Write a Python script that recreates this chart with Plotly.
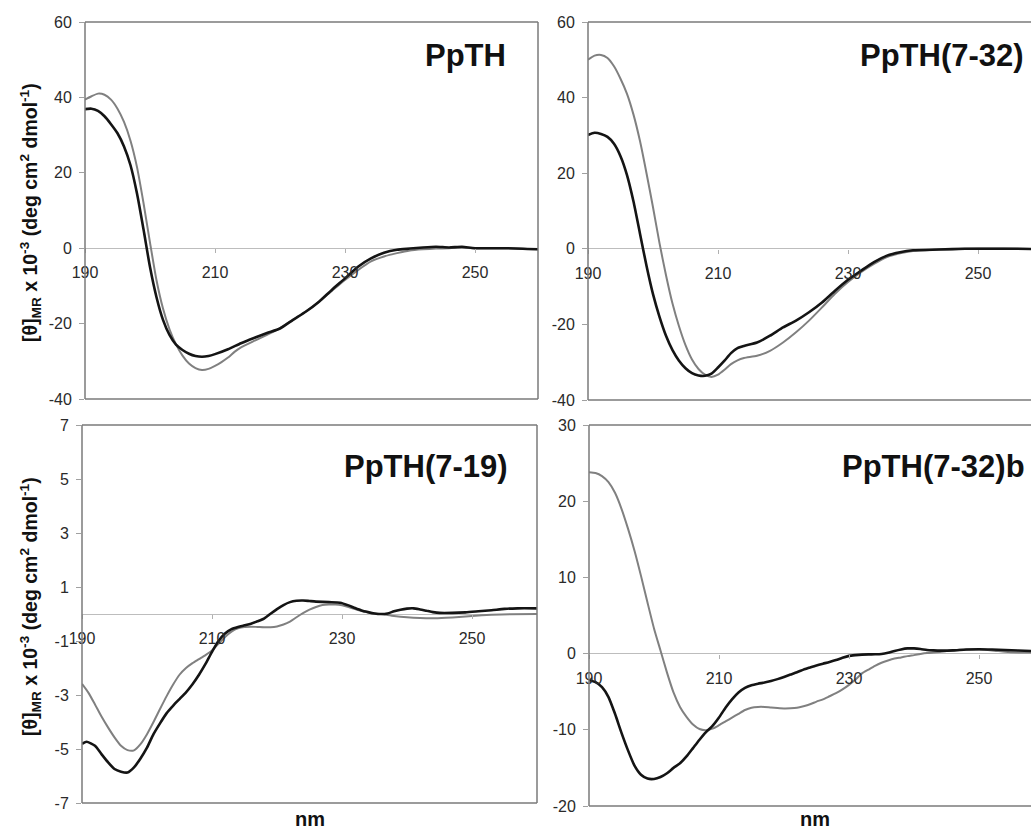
import plotly.graph_objects as go

# ---------------- data ----------------
tick_nm = [190, 210, 230, 250]

# Panel 1: PpTH
nm_ppth_black = [190, 191, 192, 193, 194, 195, 196, 197, 198, 199, 200, 201, 202, 203, 204, 205, 206, 207, 208,
                 209, 210, 212, 214, 216, 218, 220, 222, 224, 226, 228, 230, 232, 234, 236, 238, 240, 242, 244,
                 246, 248, 250, 255, 260]
ppth_black = [36.9, 37.0, 36.4, 35.0, 32.9, 30.5, 27.0, 22.0, 14.5, 5.0, -5.0, -13.0, -19.0, -23.0, -25.6, -27.0,
              -28.0, -28.6, -28.8, -28.6, -28.1, -26.8, -25.2, -23.8, -22.5, -21.3, -19.0, -16.8, -14.2, -11.0,
              -8.0, -4.9, -2.7, -1.2, -0.4, -0.1, 0.2, 0.4, 0.2, 0.4, 0.0, 0.0, -0.3]
nm_ppth_grey = [190, 191, 192, 193, 194, 195, 196, 197, 198, 199, 200, 201, 202, 203, 204, 205, 206, 207, 208,
                209, 210, 211, 212, 213, 214, 216, 218, 220, 222, 224, 226, 228, 230, 232, 234, 236, 238, 240,
                242, 244, 246, 248, 250, 255, 260]
ppth_grey = [39.4, 40.3, 41.0, 40.7, 39.4, 37.0, 33.5, 28.5, 21.5, 12.0, 1.5, -8.5, -16.0, -21.5, -25.5, -28.5,
             -30.6, -31.8, -32.3, -32.0, -31.2, -30.2, -29.0, -27.5, -26.3, -24.6, -23.0, -21.2, -19.0, -16.8,
             -14.2, -11.3, -8.4, -5.8, -3.5, -2.2, -1.3, -0.6, -0.3, -0.1, 0.0, 0.1, 0.0, 0.0, -0.3]

# Panel 2: PpTH(7-32)
nm_p732_black = [190, 191, 192, 193, 194, 195, 196, 197, 198, 199, 200, 201, 202, 203, 204, 205, 206, 207, 208,
                 209, 210, 211, 212, 213, 214, 216, 218, 220, 222, 224, 226, 228, 230, 232, 234, 236, 238, 240,
                 244, 248, 252, 256, 260]
p732_black = [30.1, 30.7, 30.4, 29.6, 27.8, 24.5, 19.5, 12.5, 4.0, -4.5, -12.0, -18.0, -23.0, -26.8, -29.6, -31.6,
              -32.9, -33.5, -33.6, -33.0, -31.4, -29.6, -27.6, -26.3, -25.7, -24.8, -23.0, -20.8, -19.0, -16.8,
              -14.2, -11.1, -8.2, -5.8, -3.5, -1.8, -0.9, -0.4, -0.2, 0.0, 0.0, 0.0, -0.1]
nm_p732_grey = [190, 191, 192, 193, 194, 195, 196, 197, 198, 199, 200, 201, 202, 203, 204, 205, 206, 207, 208,
                209, 210, 211, 212, 213, 214, 216, 218, 220, 222, 224, 226, 228, 230, 232, 234, 236, 238, 240,
                244, 248, 252, 256, 260]
p732_grey = [50.0, 51.1, 51.3, 50.5, 48.3, 45.0, 41.0, 35.5, 28.5, 20.0, 11.0, 1.5, -7.0, -14.5, -20.5, -25.5,
             -29.3, -31.8, -33.3, -33.9, -33.3, -32.0, -30.5, -29.5, -28.9, -28.3, -27.0, -24.8, -22.1, -19.0,
             -15.5, -11.9, -8.8, -6.2, -4.0, -2.2, -1.2, -0.6, -0.2, 0.0, 0.1, 0.0, -0.1]

# Panel 3: PpTH(7-19)
nm_p719_black = [190, 190.7, 192, 193, 194, 195, 196, 197, 198, 199, 200, 201, 202, 203, 204, 205, 206, 207, 208,
                 209, 210, 211, 212, 213, 214, 215, 216, 217, 218, 219, 220, 221, 222, 223, 224, 225, 226, 228,
                 229.7, 231, 232, 233, 234, 235, 236, 237, 238, 239, 240, 241, 242, 243, 244, 245, 247, 249, 251,
                 253, 255, 257, 260]
p719_black = [-4.81, -4.73, -4.88, -5.19, -5.49, -5.74, -5.84, -5.87, -5.68, -5.35, -4.95, -4.45, -4.05, -3.68,
              -3.40, -3.15, -2.90, -2.60, -2.25, -1.85, -1.40, -1.00, -0.72, -0.56, -0.48, -0.42, -0.36, -0.27,
              -0.17, 0.01, 0.18, 0.33, 0.44, 0.49, 0.50, 0.48, 0.46, 0.44, 0.42, 0.32, 0.22, 0.13, 0.07, 0.02,
              0.00, 0.02, 0.10, 0.16, 0.20, 0.21, 0.17, 0.12, 0.07, 0.04, 0.04, 0.06, 0.10, 0.14, 0.19, 0.21, 0.21]
nm_p719_grey = [190, 191, 192, 193, 194, 195, 196, 197, 198, 199, 200, 201, 202, 203, 204, 205, 206, 207, 208,
                209, 210, 211, 212, 213, 214, 215, 216, 217, 218, 219, 220, 221, 222, 223, 224, 225, 226, 227,
                228, 229, 230, 231, 232, 233, 234, 235, 236, 238, 240, 242, 244, 246, 248, 250, 253, 256, 260]
p719_grey = [-2.59, -2.92, -3.35, -3.80, -4.20, -4.57, -4.88, -5.04, -5.05, -4.82, -4.45, -4.00, -3.52, -3.05,
             -2.62, -2.25, -2.00, -1.82, -1.67, -1.52, -1.35, -1.10, -0.85, -0.65, -0.53, -0.48, -0.47, -0.48,
             -0.49, -0.49, -0.46, -0.39, -0.28, -0.12, 0.03, 0.16, 0.26, 0.33, 0.35, 0.35, 0.32, 0.26, 0.18,
             0.11, 0.06, 0.02, 0.00, -0.07, -0.12, -0.15, -0.16, -0.14, -0.11, -0.07, -0.03, -0.01, 0.00]

# Panel 4: PpTH(7-32)b
nm_p732b_black = [190, 191, 192, 193, 194, 195, 196, 197, 198, 199, 200, 201, 202, 203, 204, 205, 206, 207, 208,
                  209, 210, 211, 212, 213, 214, 215, 216, 217, 218, 219, 220, 221, 222, 223, 224, 225, 226, 227,
                  228, 229, 230, 231, 232, 233, 234, 235, 236, 237, 238, 239, 240, 241, 242, 243, 244, 246, 248,
                  250, 252, 254, 256, 258, 260]
p732b_black = [-3.5, -3.75, -4.4, -5.7, -7.9, -10.4, -12.7, -14.7, -15.9, -16.4, -16.45, -16.2, -15.7, -15.0,
               -14.4, -13.5, -12.4, -11.3, -10.3, -9.5, -8.4, -7.1, -6.0, -5.1, -4.5, -4.15, -3.95, -3.8, -3.6,
               -3.35, -3.06, -2.75, -2.45, -2.1, -1.82, -1.55, -1.32, -1.1, -0.85, -0.55, -0.3, -0.2, -0.13,
               -0.1, -0.09, -0.05, 0.1, 0.35, 0.55, 0.68, 0.68, 0.6, 0.47, 0.42, 0.39, 0.42, 0.53, 0.57, 0.54,
               0.48, 0.4, 0.35, 0.32]
nm_p732b_grey = [190, 191, 192, 193, 194, 195, 196, 197, 198, 199, 200, 201, 202, 203, 204, 205, 206, 207, 208,
                 209, 210, 211, 212, 213, 214, 215, 216, 217, 218, 219, 220, 221, 222, 223, 224, 225, 226, 227,
                 228, 229, 230, 231, 232, 233, 234, 235, 236, 237, 238, 239, 240, 241, 242, 243, 244, 245, 246,
                 247, 248, 250, 252, 254, 256, 258, 260]
p732b_grey = [23.8, 23.7, 23.3, 22.5, 21.1, 19.0, 16.4, 13.5, 10.2, 6.7, 3.3, 0.4, -2.5, -5.1, -7.0, -8.3, -9.3,
              -9.9, -10.05, -9.85, -9.4, -8.9, -8.4, -7.9, -7.4, -7.1, -7.0, -7.0, -7.08, -7.15, -7.2, -7.18,
              -7.1, -6.9, -6.65, -6.3, -6.0, -5.6, -5.2, -4.7, -4.1, -3.4, -2.6, -2.1, -1.6, -1.2, -0.9, -0.65,
              -0.5, -0.33, -0.2, -0.05, 0.07, 0.14, 0.22, 0.33, 0.42, 0.49, 0.52, 0.53, 0.42, 0.25, 0.16, 0.13,
              0.12]

panel_titles = ["PpTH", "PpTH(7-32)", "PpTH(7-19)", "PpTH(7-32)b"]
yticks_top = [-40, -20, 0, 20, 40, 60]
yticks_bl = [-7, -5, -3, -1, 1, 3, 5, 7]
yticks_br = [-20, -10, 0, 10, 20, 30]

# ---------------- layout helpers ----------------
W, H = 1031, 832
PX_PER_NM = 6.5


def fx(p):
    return p / W


def fy(p):
    return 1 - p / H


BLACK = "#141414"
GREY = "#808080"
FRAME = "#7a7a7a"
FONT = "Liberation Sans, Arial, sans-serif"

panels = [
    dict(l=85, r=538, t=22, b=399, yr=[-40, 60], yt=yticks_top, title=panel_titles[0], tr=508, ty=56, full=True,
         data=[(nm_ppth_grey, ppth_grey, GREY, 2), (nm_ppth_black, ppth_black, BLACK, 2.6)]),
    dict(l=588, r=1031, t=22, b=400, yr=[-40, 60], yt=yticks_top, title=panel_titles[1], tr=1026, ty=56, full=False,
         data=[(nm_p732_grey, p732_grey, GREY, 2), (nm_p732_black, p732_black, BLACK, 2.6)]),
    dict(l=82, r=537, t=425, b=803, yr=[-7, 7], yt=yticks_bl, title=panel_titles[2], tr=510, ty=466, full=True,
         data=[(nm_p719_grey, p719_grey, GREY, 2), (nm_p719_black, p719_black, BLACK, 2.6)]),
    dict(l=589, r=1031, t=425, b=806, yr=[-20, 30], yt=yticks_br, title=panel_titles[3], tr=1027, ty=466, full=False,
         data=[(nm_p732b_grey, p732b_grey, GREY, 2), (nm_p732b_black, p732b_black, BLACK, 2.6)]),
]

fig = go.Figure()
shapes = []
annotations = []
layout = {}

for i, p in enumerate(panels, start=1):
    xa = "x" if i == 1 else f"x{i}"
    ya = "y" if i == 1 else f"y{i}"
    xkey = "xaxis" if i == 1 else f"xaxis{i}"
    ykey = "yaxis" if i == 1 else f"yaxis{i}"
    xmax = 190 + (p["r"] - p["l"]) / PX_PER_NM
    y0, y1 = p["yr"]
    zero_px = p["t"] + (y1 - 0) / (y1 - y0) * (p["b"] - p["t"])

    for xs, ys, col, w in p["data"]:
        fig.add_trace(go.Scatter(x=xs, y=ys, mode="lines", xaxis=xa, yaxis=ya,
                                 line=dict(color=col, width=w, shape="spline", smoothing=0.6),
                                 hoverinfo="skip", showlegend=False))

    layout[xkey] = dict(domain=[fx(p["l"]), fx(p["r"])], range=[190, xmax], anchor="free",
                        position=fy(zero_px), tickvals=tick_nm, ticktext=[str(v) for v in tick_nm],
                        showgrid=False, zeroline=False, automargin=False,
                        showline=False, ticks="outside", ticklen=4, tickcolor="#b0b0b0",
                        ticklabelstandoff=6,
                        tickfont=dict(family=FONT, size=16, color="#2a2a2a"), fixedrange=True)
    layout[ykey] = dict(domain=[fy(p["b"]), fy(p["t"])], range=p["yr"], anchor=xa, tickvals=p["yt"],
                        ticktext=[str(v) for v in p["yt"]], automargin=False,
                        showgrid=False, zeroline=True, zerolinecolor="#bdbdbd", zerolinewidth=1,
                        showline=False, ticks="outside", ticklen=5, tickcolor="#a0a0a0",
                        ticklabelstandoff=4,
                        tickfont=dict(family=FONT, size=16, color="#2a2a2a"), fixedrange=True)

    xd, yd = f"{xa} domain", f"{ya} domain"
    line = dict(color=FRAME, width=1.5)
    shapes.append(dict(type="line", xref=xd, yref=yd, x0=0, x1=0, y0=0, y1=1, line=line))
    shapes.append(dict(type="line", xref=xd, yref=yd, x0=0, x1=1, y0=1, y1=1, line=line))
    shapes.append(dict(type="line", xref=xd, yref=yd, x0=0, x1=1, y0=0, y1=0, line=line))
    if p["full"]:
        shapes.append(dict(type="line", xref=xd, yref=yd, x0=1, x1=1, y0=0, y1=1, line=line))

    annotations.append(dict(text=f"<b>{p['title']}</b>", xref="paper", yref="paper",
                            x=fx(p["tr"]), y=fy(p["ty"]), xanchor="right", yanchor="middle",
                            showarrow=False, font=dict(family=FONT, size=31, color="#111")))

ytitle = "<b>[θ]<sub>MR</sub> x 10<sup>-3</sup> (deg cm<sup>2</sup> dmol<sup>-1</sup>)</b>"
for cy in (213, 607):
    annotations.append(dict(text=ytitle, xref="paper", yref="paper", x=fx(30), y=fy(cy),
                            xanchor="center", yanchor="middle", textangle=-90, showarrow=False,
                            font=dict(family=FONT, size=19.5, color="#111")))
for cx in (310, 815):
    annotations.append(dict(text="<b>nm</b>", xref="paper", yref="paper", x=fx(cx), y=0,
                            xanchor="center", yanchor="bottom", showarrow=False,
                            font=dict(family=FONT, size=20, color="#111")))

fig.update_layout(width=W, height=H, margin=dict(l=0, r=0, t=0, b=0),
                  paper_bgcolor="white", plot_bgcolor="white", showlegend=False,
                  shapes=shapes, annotations=annotations, **layout)

fig.write_html("out.html")
